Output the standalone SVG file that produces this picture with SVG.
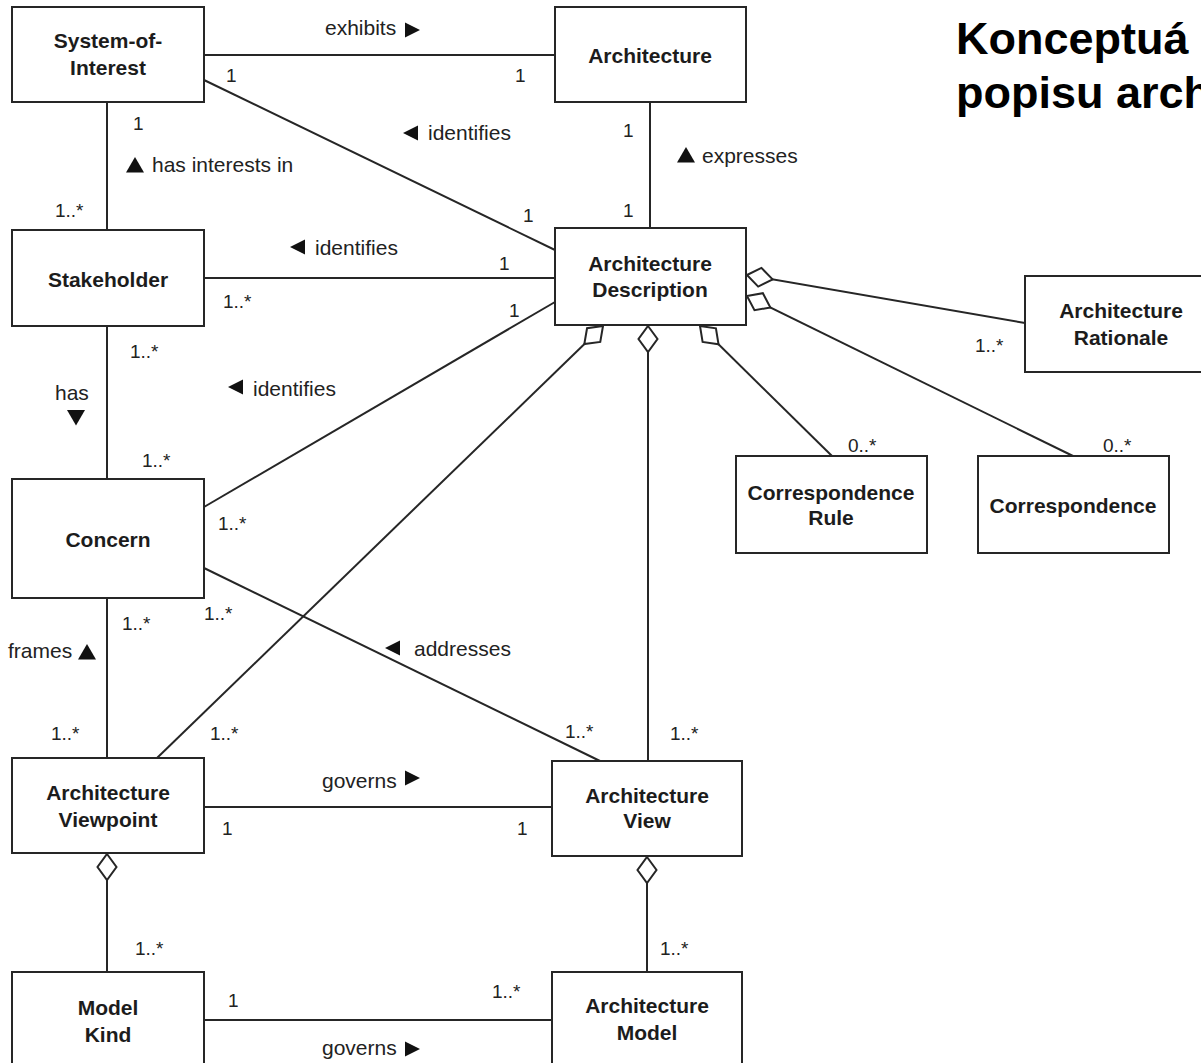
<svg xmlns="http://www.w3.org/2000/svg" width="1201" height="1063" viewBox="0 0 1201 1063">
  <defs>
    <style>
      .node rect { fill: #ffffff; stroke: #262626; stroke-width: 2; }
      .name { font-family: "Liberation Sans", Arial, sans-serif; font-weight: bold; font-size: 21px; fill: #1c1c1c; text-anchor: middle; }
      .lbl { font-family: "Liberation Sans", Arial, sans-serif; font-size: 21px; fill: #222222; }
      .mult { font-family: "Liberation Sans", Arial, sans-serif; font-size: 19px; fill: #222222; }
      .title { font-family: "Liberation Sans", Arial, sans-serif; font-weight: bold; font-size: 45px; fill: #000000; }
      #connectors path { fill: none; stroke: #262626; stroke-width: 2; }
      .tri { fill: #111111; }
    </style>
    <!-- open diamond for aggregation ends -->
    <marker id="agg" viewBox="-2 -12 30 24" refX="0" refY="0" markerWidth="30" markerHeight="24" markerUnits="userSpaceOnUse" orient="auto">
      <path d="M0,0 L13,-9.5 L26,0 L13,9.5 Z" fill="#ffffff" stroke="#262626" stroke-width="2"/>
    </marker>
    <!-- reading-direction triangles -->
    <path id="triR" d="M0,-7.5 L15,0 L0,7.5 Z"/>
    <path id="triL" d="M15,-7.5 L0,0 L15,7.5 Z"/>
    <path id="triU" d="M-9,7.5 L0,-8 L9,7.5 Z"/>
    <path id="triD" d="M-9,-8 L9,-8 L0,7.5 Z"/>
  </defs>

  <rect x="0" y="0" width="1201" height="1063" fill="#ffffff"/>

  <!-- title -->
  <text class="title" x="956" y="54">Konceptuá</text>
  <text class="title" x="956" y="108">popisu arch</text>

  <g id="connectors">
    <path d="M204,55 L555,55"/>
    <path d="M204,80 L555,250"/>
    <path d="M107,102 L107,230"/>
    <path d="M650,102 L650,228"/>
    <path d="M204,278 L555,278"/>
    <path d="M107,326 L107,479"/>
    <path d="M555,302 L204,507"/>
    <path d="M107,598 L107,758"/>
    <path d="M204,568 L600,761"/>
    <path d="M603,326 L157,758" marker-start="url(#agg)"/>
    <path d="M648,326 L648,761" marker-start="url(#agg)"/>
    <path d="M700,326 L832,456" marker-start="url(#agg)"/>
    <path d="M747,296 L1073,456" marker-start="url(#agg)"/>
    <path d="M747,275 L1025,323" marker-start="url(#agg)"/>
    <path d="M204,807 L552,807"/>
    <path d="M107,854 L107,972" marker-start="url(#agg)"/>
    <path d="M647,857 L647,972" marker-start="url(#agg)"/>
    <path d="M204,1020 L552,1020"/>
  </g>

  <g id="labels">
    <text class="lbl" x="325" y="35">exhibits</text>
    <use href="#triR" class="tri" x="405" y="30"/>
    <use href="#triL" class="tri" x="403" y="133"/>
    <text class="lbl" x="428" y="140">identifies</text>
    <use href="#triU" class="tri" x="686" y="155"/>
    <text class="lbl" x="702" y="163">expresses</text>
    <use href="#triU" class="tri" x="135" y="165"/>
    <text class="lbl" x="152" y="172">has interests in</text>
    <use href="#triL" class="tri" x="290" y="247"/>
    <text class="lbl" x="315" y="255">identifies</text>
    <text class="lbl" x="55" y="400">has</text>
    <use href="#triD" class="tri" x="76" y="418"/>
    <use href="#triL" class="tri" x="228" y="387"/>
    <text class="lbl" x="253" y="396">identifies</text>
    <text class="lbl" x="8" y="658">frames</text>
    <use href="#triU" class="tri" x="87" y="652"/>
    <use href="#triL" class="tri" x="385" y="648"/>
    <text class="lbl" x="414" y="656">addresses</text>
    <text class="lbl" x="322" y="788">governs</text>
    <use href="#triR" class="tri" x="405" y="778"/>
    <text class="lbl" x="322" y="1055">governs</text>
    <use href="#triR" class="tri" x="405" y="1049"/>

    <text class="mult" x="226" y="82">1</text>
    <text class="mult" x="515" y="82">1</text>
    <text class="mult" x="133" y="130">1</text>
    <text class="mult" x="523" y="222">1</text>
    <text class="mult" x="623" y="137">1</text>
    <text class="mult" x="623" y="217">1</text>
    <text class="mult" x="55" y="217">1..*</text>
    <text class="mult" x="223" y="308">1..*</text>
    <text class="mult" x="499" y="270">1</text>
    <text class="mult" x="509" y="317">1</text>
    <text class="mult" x="130" y="358">1..*</text>
    <text class="mult" x="142" y="467">1..*</text>
    <text class="mult" x="218" y="530">1..*</text>
    <text class="mult" x="122" y="630">1..*</text>
    <text class="mult" x="204" y="620">1..*</text>
    <text class="mult" x="51" y="740">1..*</text>
    <text class="mult" x="210" y="740">1..*</text>
    <text class="mult" x="565" y="738">1..*</text>
    <text class="mult" x="670" y="740">1..*</text>
    <text class="mult" x="222" y="835">1</text>
    <text class="mult" x="517" y="835">1</text>
    <text class="mult" x="135" y="955">1..*</text>
    <text class="mult" x="660" y="955">1..*</text>
    <text class="mult" x="228" y="1007">1</text>
    <text class="mult" x="492" y="998">1..*</text>
    <text class="mult" x="848" y="452">0..*</text>
    <text class="mult" x="1103" y="452">0..*</text>
    <text class="mult" x="975" y="352">1..*</text>
  </g>

  <g id="system-of-interest" class="node">
    <rect x="12" y="7" width="192" height="95"/>
    <text class="name" x="108" y="48">System-of-</text>
    <text class="name" x="108" y="75">Interest</text>
  </g>
  <g id="architecture" class="node">
    <rect x="555" y="7" width="191" height="95"/>
    <text class="name" x="650" y="63">Architecture</text>
  </g>
  <g id="stakeholder" class="node">
    <rect x="12" y="230" width="192" height="96"/>
    <text class="name" x="108" y="287">Stakeholder</text>
  </g>
  <g id="architecture-description" class="node">
    <rect x="555" y="228" width="191" height="97"/>
    <text class="name" x="650" y="271">Architecture</text>
    <text class="name" x="650" y="297">Description</text>
  </g>
  <g id="architecture-rationale" class="node">
    <rect x="1025" y="276" width="190" height="96"/>
    <text class="name" x="1121" y="318">Architecture</text>
    <text class="name" x="1121" y="345">Rationale</text>
  </g>
  <g id="correspondence-rule" class="node">
    <rect x="736" y="456" width="191" height="97"/>
    <text class="name" x="831" y="500">Correspondence</text>
    <text class="name" x="831" y="525">Rule</text>
  </g>
  <g id="correspondence" class="node">
    <rect x="978" y="456" width="191" height="97"/>
    <text class="name" x="1073" y="513">Correspondence</text>
  </g>
  <g id="concern" class="node">
    <rect x="12" y="479" width="192" height="119"/>
    <text class="name" x="108" y="547">Concern</text>
  </g>
  <g id="architecture-viewpoint" class="node">
    <rect x="12" y="758" width="192" height="95"/>
    <text class="name" x="108" y="800">Architecture</text>
    <text class="name" x="108" y="827">Viewpoint</text>
  </g>
  <g id="architecture-view" class="node">
    <rect x="552" y="761" width="190" height="95"/>
    <text class="name" x="647" y="803">Architecture</text>
    <text class="name" x="647" y="828">View</text>
  </g>
  <g id="model-kind" class="node">
    <rect x="12" y="972" width="192" height="100"/>
    <text class="name" x="108" y="1015">Model</text>
    <text class="name" x="108" y="1042">Kind</text>
  </g>
  <g id="architecture-model" class="node">
    <rect x="552" y="972" width="190" height="100"/>
    <text class="name" x="647" y="1013">Architecture</text>
    <text class="name" x="647" y="1040">Model</text>
  </g>
</svg>
